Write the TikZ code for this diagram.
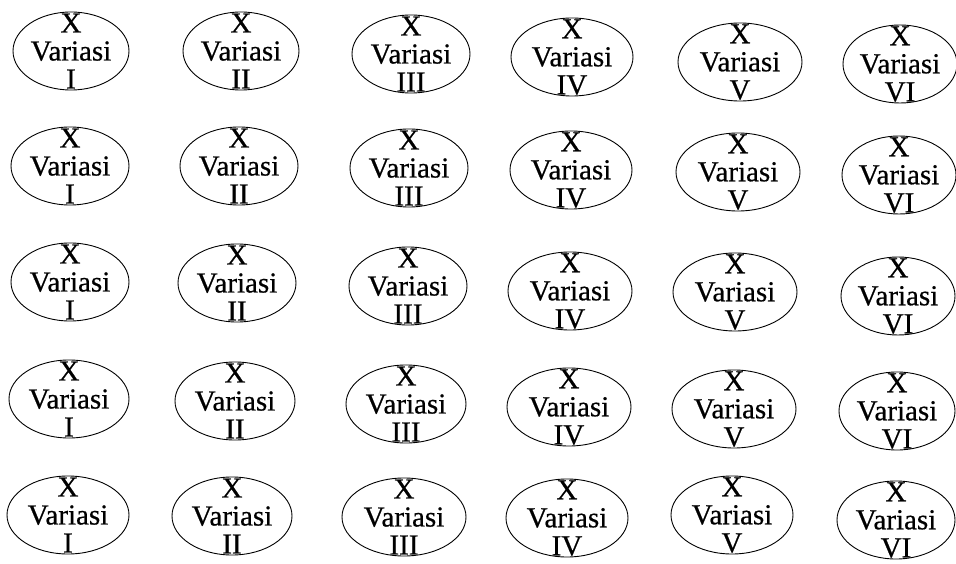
\documentclass[tikz,border=0pt]{standalone}
\usepackage{fontspec}
\setmainfont{Liberation Serif}[FakeBold=0.6]
\usetikzlibrary{shapes.geometric}
\tikzset{
  cell/.style={draw=black, line width=0.9pt, ellipse, inner sep=0pt,
    minimum height=78pt},
  lbl/.style={align=center, inner sep=0pt, text=black,
    font=\fontsize{29}{28}\selectfont}
}
\begin{document}
\begin{tikzpicture}[x=1pt, y=-1pt]
  \useasboundingbox[fill=white] (0,0) rectangle (956,564);
  % row/column, centre, ellipse width, numeral
  \foreach \r/\c/\x/\y/\w/\n in {
    1/1/71/51/116/I,   1/2/241/51/116/II,  1/3/411/54/118/III,
    1/4/572/57/122/IV, 1/5/740/62/124/V,   1/6/900/64/114/VI,
    2/1/70/166/118/I,  2/2/239/166/118/II, 2/3/409/168/118/III,
    2/4/571/170/122/IV,2/5/738/172/124/V,  2/6/899/175/114/VI,
    3/1/70/282/118/I,  3/2/237/283/118/II, 3/3/408/286/118/III,
    3/4/570/291/124/IV,3/5/735/292/124/V,  3/6/898/296/114/VI,
    4/1/69/399/120/I,  4/2/235/401/120/II, 4/3/406/404/120/III,
    4/4/569/407/124/IV,4/5/734/409/124/V,  4/6/897/411/116/VI,
    5/1/68/515/122/I,  5/2/232/516/120/II, 5/3/404/517/124/III,
    5/4/567/518/122/IV,5/5/732/515/122/V,  5/6/896/520/118/VI} {
    \node[cell, minimum width=\w pt] (e\r\c) at (\x,\y) {};
    \node[lbl] (t\r\c) at (e\r\c.center) {X\\Variasi\\\n};
  }
\end{tikzpicture}
\end{document}
